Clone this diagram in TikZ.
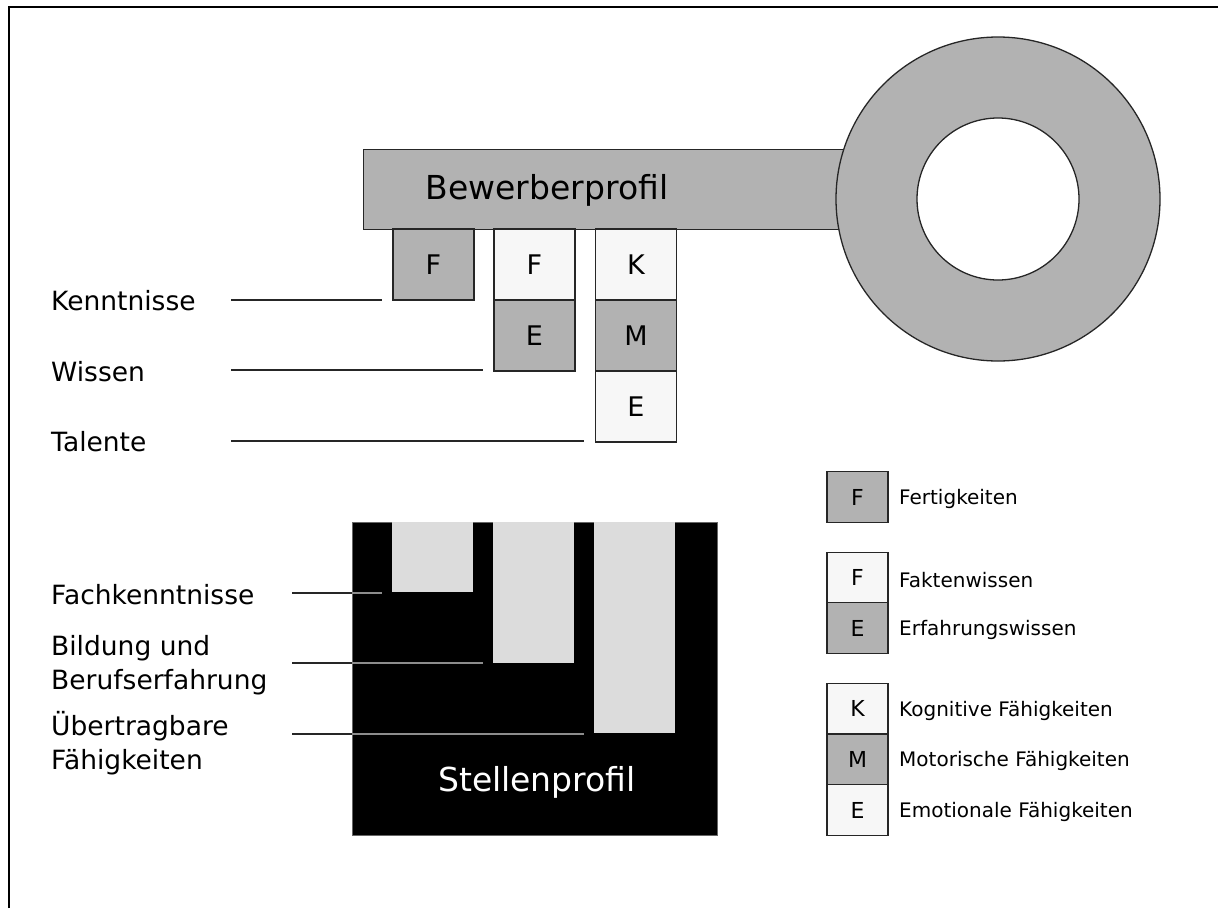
\documentclass[tikz,border=0pt]{standalone}
\usepackage{fontspec}
\setmainfont{DejaVu Sans}
\definecolor{keygray}{HTML}{B2B2B2}
\definecolor{keylight}{HTML}{F7F7F7}
\definecolor{slotgray}{HTML}{DCDCDC}
\definecolor{leadgray}{HTML}{8C8C8C}
\tikzset{
  cell/.style={draw=black!85, line width=1.3pt, minimum width=81pt, minimum height=71pt, inner sep=0pt, font=\fontsize{27}{27}\selectfont},
  legcell/.style={draw=black!85, line width=1.3pt, minimum width=61pt, minimum height=50.5pt, inner sep=0pt, font=\fontsize{22}{22}\selectfont},
  lbl/.style={anchor=west, inner sep=0pt, align=left, font=\fontsize{26.5}{34}\selectfont},
  legtxt/.style={anchor=west, inner sep=0pt, font=\fontsize{20}{20}\selectfont},
  leader/.style={line width=1.3pt, black!85},
  leaderlight/.style={line width=1.3pt, leadgray},
  slot/.style={fill=slotgray, draw=none, minimum width=81pt, inner sep=0pt, anchor=north}
}
\begin{document}
\begin{tikzpicture}[x=1pt, y=-1pt]
\useasboundingbox (0,0) rectangle (1218,908);
% frame
\draw[line width=2.5pt] (9,908) -- (9,7) -- (1218,7);

% key bar and ring
\node[draw=black!85, line width=1.3pt, fill=keygray, minimum width=482pt, minimum height=80pt, inner sep=0pt, anchor=north west] (bar) at (363,149) {};
\draw[black!85, line width=1.3pt, fill=keygray, even odd rule] (998,199) circle (162pt) (998,199) circle (81pt);
\node[font=\fontsize{33}{33}\selectfont] (bewerber) at (547,190) {Bewerberprofil};

% key cells
\node[cell, fill=keygray] (c1f) at (433.5,264.5) {F};
\node[cell, fill=keylight] (c2f) at (534.5,264.5) {F};
\node[cell, fill=keygray] (c2e) at (534.5,335.5) {E};
\node[cell, fill=keylight] (c3k) at (636,264.5) {K};
\node[cell, fill=keygray] (c3m) at (636,335.5) {M};
\node[cell, fill=keylight] (c3e) at (636,406.5) {E};

% upper labels
\node[lbl] (kenntnisse) at (51,301) {Kenntnisse};
\node[lbl] (wissen) at (51,372) {Wissen};
\node[lbl] (talente) at (51,442) {Talente};
\coordinate (k0) at (231,300);
\coordinate (k1) at (382,300);
\coordinate (w0) at (231,370);
\coordinate (w1) at (483,370);
\coordinate (t0) at (231,441);
\coordinate (t1) at (584,441);
\draw[leader] (k0) -- (k1);
\draw[leader] (w0) -- (w1);
\draw[leader] (t0) -- (t1);

% Stellenprofil
\node[fill=black, draw=black!60, line width=0.8pt, minimum width=365pt, minimum height=313pt, inner sep=0pt, anchor=north west] (stelle) at (352,522) {};
\node[slot, minimum height=70pt] (s1) at (432.5,522) {};
\node[slot, minimum height=141pt] (s2) at (533.5,522) {};
\node[slot, minimum height=211pt] (s3) at (634.5,522) {};
\node[font=\fontsize{33}{33}\selectfont, text=white] (stellentxt) at (537,782) {Stellenprofil};

% lower labels
\node[lbl] (fach) at (51,595) {Fachkenntnisse};
\node[lbl] (bildung) at (51,665) {Bildung und\\Berufserfahrung};
\node[lbl] (uebertr) at (51,743) {Übertragbare\\Fähigkeiten};
\coordinate (f0) at (292,593);
\coordinate (f1) at (382,593);
\coordinate (b0) at (292,663);
\coordinate (b1) at (483,663);
\coordinate (u0) at (292,734);
\coordinate (u1) at (584,734);
\draw[leader] (f0) -- (stelle.west |- f0);
\draw[leaderlight] (stelle.west |- f0) -- (f1);
\draw[leader] (b0) -- (stelle.west |- b0);
\draw[leaderlight] (stelle.west |- b0) -- (b1);
\draw[leader] (u0) -- (stelle.west |- u0);
\draw[leaderlight] (stelle.west |- u0) -- (u1);

% legend
\node[legcell, fill=keygray] (lf) at (857.5,497) {F};
\node[legtxt] (lftxt) at (899,499) {Fertigkeiten};

\node[legcell, fill=keylight] (lfw) at (857.5,577.5) {F};
\node[legcell, fill=keygray] (lew) at (857.5,628) {E};
\node[legtxt] (lfwtxt) at (899,580) {Faktenwissen};
\node[legtxt] (lewtxt) at (899,630) {Erfahrungswissen};

\node[legcell, fill=keylight] (lk) at (857.5,708.5) {K};
\node[legcell, fill=keygray] (lm) at (857.5,759.5) {M};
\node[legcell, fill=keylight] (le) at (857.5,810) {E};
\node[legtxt] (lktxt) at (899,711) {Kognitive Fähigkeiten};
\node[legtxt] (lmtxt) at (899,761) {Motorische Fähigkeiten};
\node[legtxt] (letxt) at (899,812) {Emotionale Fähigkeiten};
\end{tikzpicture}
\end{document}
